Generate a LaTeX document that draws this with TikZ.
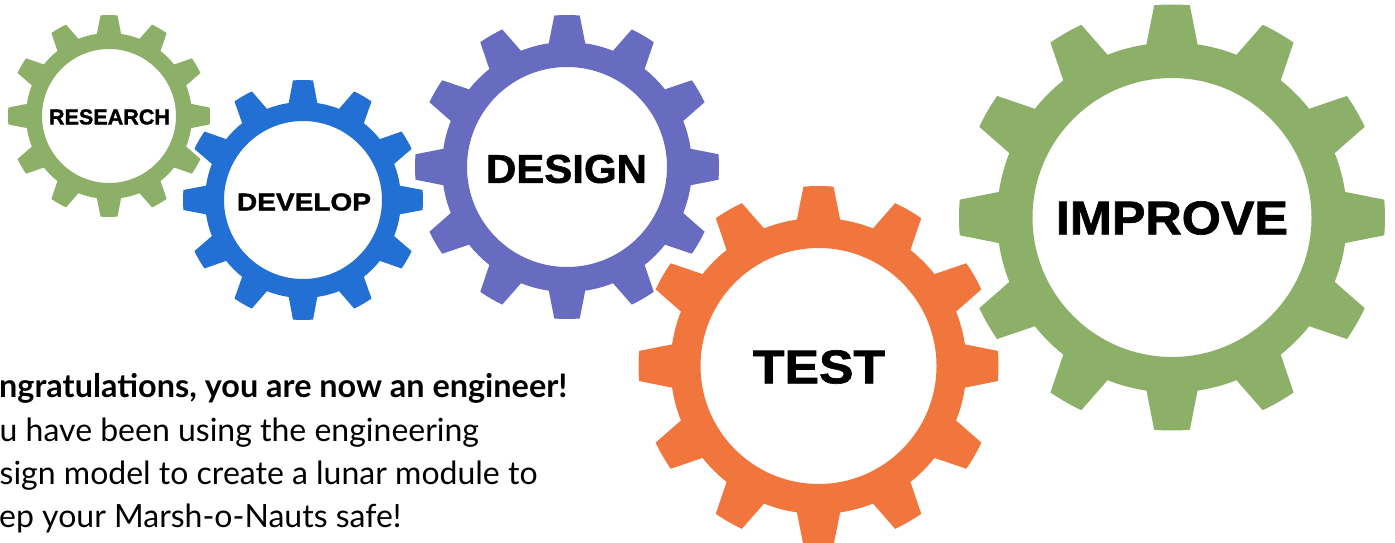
\documentclass[tikz,border=0pt]{standalone}
\usepackage{fontspec}
\setmainfont{Liberation Sans}
\newfontfamily\latofont{Lato}
\newfontfamily\heavyfont{Liberation Sans Bold}[FakeBold=1.4]
\usetikzlibrary{calc}

\definecolor{gearGreen}{RGB}{141,176,105}
\definecolor{gearBlue}{RGB}{35,112,212}
\definecolor{gearPurple}{RGB}{104,108,192}
\definecolor{gearOrange}{RGB}{241,118,62}

% twelve-tooth cog with an open bore
% #1 centre coordinate, #2 tip radius, #3 root radius, #4 bore radius, #5 colour
\newcommand\cogwheel[5]{%
  \fill[#5, even odd rule] ($(#1)+(-8.4:#3)$)
    \foreach \a in {0,30,...,330}{
      -- ($(#1)+(\a-4.8:#2)$)
      arc[start angle=\a-4.8, end angle=\a+4.8, radius=#2]
      -- ($(#1)+(\a+8.4:#3)$)
      arc[start angle=\a+8.4, end angle=\a+21.6, radius=#3]
    } -- cycle
    (#1) circle[radius=#4];
}

\tikzset{
  gearlabel/.style={inner sep=0pt, font=\heavyfont},
  bodytext/.style={anchor=base west, inner sep=0pt,
    font=\latofont\fontsize{32}{38}\selectfont},
}

\begin{document}
\begin{tikzpicture}[x=1pt,y=1pt]
  \useasboundingbox (0,0) rectangle (1395,542);
  \clip (0,0) rectangle (1395,542);
  \fill[white] (0,0) rectangle (1395,542);

  % gear centres
  \coordinate (research-c) at (109,426);
  \coordinate (develop-c)  at (303,342);
  \coordinate (design-c)   at (567,375);
  \coordinate (test-c)     at (818.5,176);
  \coordinate (improve-c)  at (1172,324.5);

  \cogwheel{research-c}{101}{83}{67}{gearGreen}
  \cogwheel{develop-c}{120}{98}{79}{gearBlue}
  \cogwheel{design-c}{152}{125}{100}{gearPurple}
  \cogwheel{test-c}{180}{148}{118}{gearOrange}
  \cogwheel{improve-c}{213}{175}{139.5}{gearGreen}

  % stage labels
  \node[gearlabel] (research) at (109.5,425) {\resizebox{121pt}{15pt}{RESEARCH}};
  \node[gearlabel] (develop)  at (304,340)   {\resizebox{134pt}{17pt}{DEVELOP}};
  \node[gearlabel] (design)   at (566.5,373) {\resizebox{161pt}{28pt}{DESIGN}};
  \node[gearlabel] (test)     at (819,175)   {\resizebox{132pt}{33pt}{TEST}};
  \node[gearlabel] (improve)  at (1172,324)  {\resizebox{232pt}{33pt}{IMPROVE}};

  % closing message, running off the left edge
  \node[bodytext] (line1) at (-1,145)
    {\fontsize{32.4}{38}\selectfont\bfseries ngratulations, you are now an engineer!};
  \node[bodytext] (line2) at (-0.5,101) {u have been using the engineering};
  \node[bodytext] (line3) at (-0.5,58)  {sign model to create a lunar module to};
  \node[bodytext] (line4) at (-1,15)    {ep your Marsh-o-Nauts safe!};
\end{tikzpicture}
\end{document}
